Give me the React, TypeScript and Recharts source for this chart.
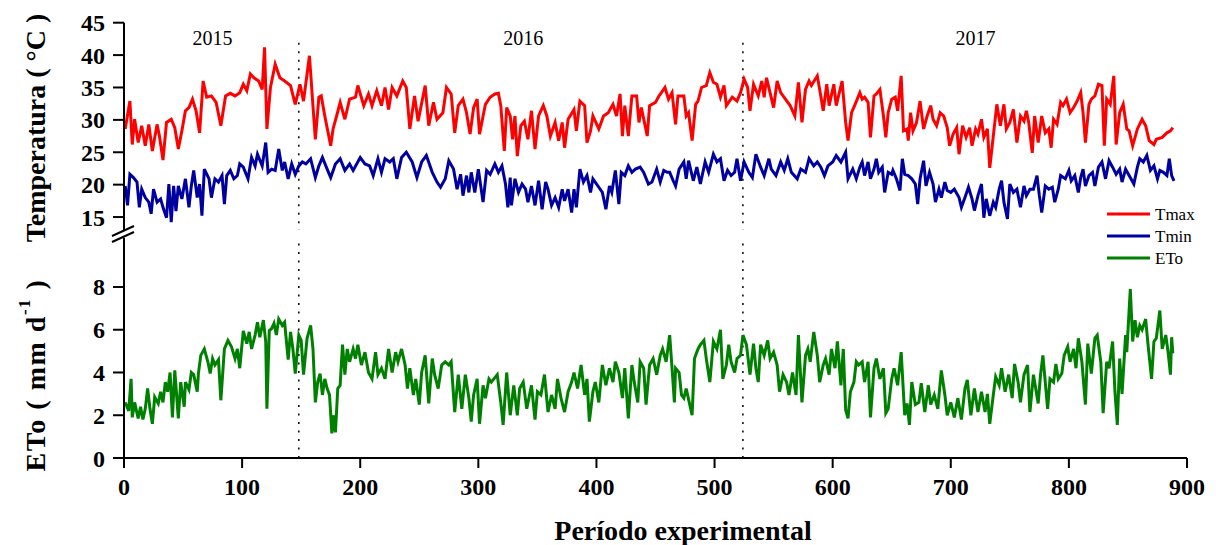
import { LineChart, Line, XAxis, YAxis, ReferenceLine } from 'recharts'

// Daily weather series over the experimental period (day index -> value)
const tmaxDay = [
  1, 5, 7, 9, 12, 15, 18, 21, 24, 28, 30, 33, 36, 40, 43, 46, 49, 52, 55, 58, 61, 64, 67, 70, 74, 78, 82, 86, 90, 94,
  98, 101, 104, 107, 110, 114, 117, 119, 121, 124, 128, 132, 136, 141, 145, 149, 152, 157, 162, 165, 167, 170, 175,
  177, 180, 183, 187, 191, 196, 198, 203, 207, 210, 214, 218, 221, 224, 227, 231, 236, 239, 242, 246, 249, 255, 258,
  262, 265, 270, 273, 277, 280, 283, 287, 290, 293, 296, 299, 301, 306, 310, 314, 317, 319, 322, 324, 327, 329, 331,
  333, 336, 339, 342, 345, 348, 351, 355, 358, 361, 365, 368, 371, 373, 376, 381, 383, 386, 390, 392, 395, 397, 402,
  406, 410, 414, 417, 420, 422, 424, 427, 430, 434, 436, 438, 443, 445, 450, 453, 455, 458, 461, 464, 467, 469, 474,
  476, 478, 481, 484, 486, 489, 493, 496, 499, 502, 505, 508, 510, 515, 519, 522, 525, 528, 530, 533, 537, 540, 542,
  544, 547, 550, 553, 556, 560, 564, 568, 571, 574, 577, 580, 582, 587, 589, 592, 595, 597, 601, 603, 608, 611, 613,
  616, 619, 623, 625, 627, 630, 632, 635, 637, 640, 643, 645, 647, 650, 653, 655, 658, 660, 663, 664, 666, 668, 671,
  674, 677, 680, 683, 685, 688, 691, 694, 697, 699, 702, 705, 707, 710, 713, 716, 718, 721, 723, 726, 728, 731, 733,
  736, 739, 742, 745, 747, 750, 753, 756, 759, 762, 764, 766, 769, 771, 774, 777, 780, 783, 785, 787, 790, 793, 795,
  798, 801, 804, 807, 810, 812, 814, 817, 819, 822, 825, 828, 830, 832, 835, 838, 840, 843, 846, 849, 851, 854, 858,
  862, 865, 868, 872, 874, 879, 883, 886, 888,
]
const tmax = [
  28.6, 32.9, 26.2, 30.1, 26.5, 29.1, 26.0, 29.3, 25.2, 29.3, 27.5, 23.8, 29.6, 30.1, 28.8, 25.5, 28.3, 31.4, 31.9,
  33.2, 31.4, 28.0, 36.0, 33.5, 33.7, 32.7, 29.1, 33.7, 34.1, 33.7, 34.2, 35.5, 34.5, 37.1, 36.5, 36.0, 34.7, 41.2,
  28.6, 35.0, 38.6, 36.5, 36.0, 35.3, 32.4, 35.5, 32.9, 39.9, 27.0, 33.5, 33.7, 30.6, 26.0, 28.6, 30.6, 32.7, 30.1,
  33.2, 33.5, 35.3, 32.2, 34.0, 32.2, 34.5, 32.2, 35.0, 31.6, 35.0, 33.7, 36.0, 35.0, 28.6, 33.7, 29.8, 35.3, 29.1,
  32.7, 30.1, 31.1, 35.0, 34.0, 28.0, 32.2, 33.2, 31.1, 27.8, 31.9, 33.2, 27.8, 32.4, 33.5, 34.0, 34.1, 32.2, 25.2,
  31.9, 30.6, 27.0, 30.6, 24.4, 29.1, 29.8, 27.0, 31.4, 25.5, 30.6, 32.2, 30.6, 27.5, 29.6, 26.8, 29.6, 25.7, 30.1,
  31.6, 28.3, 32.9, 32.2, 26.5, 28.3, 30.6, 28.6, 30.6, 31.1, 32.4, 30.6, 34.0, 27.5, 32.2, 27.5, 33.7, 33.7, 29.6,
  31.9, 27.5, 32.2, 32.7, 33.7, 34.2, 35.0, 33.2, 34.2, 29.3, 33.7, 33.7, 30.6, 31.1, 26.8, 32.4, 32.9, 35.0, 35.3,
  37.3, 35.8, 35.5, 33.5, 35.3, 32.2, 33.5, 32.9, 34.2, 36.3, 35.0, 31.4, 35.5, 33.7, 36.0, 33.5, 36.5, 34.2, 31.9,
  36.0, 34.2, 33.2, 32.2, 30.6, 35.8, 29.6, 34.7, 36.0, 35.3, 36.8, 34.7, 31.4, 35.5, 32.2, 35.5, 32.2, 36.0, 29.6,
  26.8, 31.1, 32.4, 34.2, 33.2, 33.5, 32.7, 27.3, 33.7, 34.0, 34.7, 30.6, 27.3, 31.1, 33.2, 33.5, 31.4, 36.8, 28.3,
  28.6, 26.8, 31.1, 28.3, 29.6, 32.9, 28.6, 30.6, 32.2, 30.1, 29.1, 31.1, 30.6, 28.8, 26.0, 27.8, 28.8, 24.7, 29.1,
  27.3, 28.8, 26.0, 28.6, 27.8, 30.1, 27.3, 28.6, 22.6, 27.5, 32.4, 29.1, 32.4, 28.6, 29.6, 31.6, 26.5, 30.6, 29.8,
  31.4, 29.6, 24.9, 30.6, 26.5, 30.6, 28.0, 28.6, 25.7, 30.1, 29.3, 32.7, 32.2, 33.2, 31.1, 31.9, 32.9, 34.2, 31.1,
  26.5, 32.4, 33.2, 33.7, 35.5, 35.3, 26.0, 33.2, 32.4, 36.8, 26.2, 31.1, 32.4, 28.6, 28.3, 26.0, 28.6, 30.1, 29.1,
  26.8, 26.2, 27.0, 27.3, 28.0, 28.3, 28.8,
]

const tminDay = [
  1, 3, 5, 8, 11, 13, 15, 18, 21, 23, 25, 28, 31, 33, 36, 38, 40, 42, 44, 46, 49, 52, 55, 57, 59, 62, 64, 66, 68, 72,
  74, 77, 80, 83, 85, 87, 90, 93, 96, 98, 101, 105, 108, 111, 113, 117, 120, 122, 125, 128, 131, 134, 136, 139, 142,
  145, 148, 151, 154, 158, 162, 165, 168, 172, 175, 179, 183, 187, 191, 194, 200, 204, 208, 211, 215, 218, 221, 225,
  228, 231, 235, 239, 244, 248, 252, 256, 261, 265, 268, 272, 275, 279, 282, 285, 287, 290, 292, 294, 297, 300, 304,
  307, 310, 314, 317, 320, 323, 325, 327, 328, 331, 334, 337, 340, 342, 345, 348, 351, 354, 357, 359, 362, 365, 368,
  371, 373, 376, 379, 381, 383, 386, 389, 392, 395, 397, 402, 405, 408, 411, 413, 416, 419, 421, 424, 427, 430, 433,
  437, 440, 444, 447, 451, 454, 457, 460, 462, 465, 467, 470, 474, 476, 478, 482, 485, 488, 492, 495, 499, 502, 505,
  508, 511, 514, 517, 519, 522, 525, 529, 532, 535, 539, 542, 546, 548, 552, 556, 559, 562, 565, 570, 573, 577, 580,
  584, 587, 590, 593, 596, 600, 603, 607, 611, 613, 617, 620, 623, 625, 627, 630, 632, 635, 637, 639, 642, 644, 647,
  650, 651, 654, 657, 659, 661, 664, 667, 670, 672, 674, 677, 679, 682, 685, 687, 690, 692, 695, 697, 700, 703, 707,
  709, 712, 715, 718, 720, 723, 726, 728, 730, 733, 736, 738, 741, 743, 745, 748, 750, 753, 756, 759, 762, 764, 767,
  770, 773, 775, 777, 780, 783, 786, 788, 791, 793, 797, 800, 802, 805, 808, 810, 812, 814, 817, 820, 822, 825, 828,
  831, 834, 837, 840, 843, 845, 848, 851, 855, 858, 860, 863, 866, 869, 872, 875, 877, 880, 883, 885, 887, 889,
]
const tmin = [
  19.8, 16.8, 21.6, 21.1, 20.4, 16.5, 19.3, 18.0, 17.3, 15.5, 19.3, 17.3, 17.8, 16.5, 14.9, 20.1, 14.2, 19.8, 15.9,
  19.8, 17.8, 20.9, 16.5, 19.8, 22.2, 18.0, 20.1, 15.2, 22.4, 20.9, 18.0, 20.9, 20.4, 21.4, 17.0, 21.4, 22.2, 20.9,
  21.4, 23.2, 22.7, 20.9, 24.2, 22.9, 24.7, 22.9, 26.5, 21.9, 22.4, 22.2, 25.5, 22.2, 23.5, 20.9, 23.2, 21.6, 22.9,
  23.5, 23.2, 24.0, 21.1, 22.9, 24.2, 22.4, 21.1, 23.2, 24.0, 22.2, 23.2, 22.2, 24.2, 23.2, 22.9, 21.4, 24.0, 21.9,
  24.0, 23.5, 24.0, 20.9, 24.2, 25.0, 23.5, 21.1, 23.5, 24.5, 21.9, 20.4, 19.6, 20.9, 23.7, 22.4, 19.3, 21.6, 18.3,
  21.4, 18.8, 21.9, 18.8, 22.4, 17.3, 22.2, 21.6, 23.2, 21.9, 22.9, 20.1, 16.5, 21.1, 16.8, 20.9, 18.8, 20.1, 19.3,
  17.3, 19.8, 16.8, 20.6, 16.2, 20.4, 19.3, 16.8, 18.0, 16.5, 19.3, 17.5, 19.3, 15.7, 19.3, 16.5, 22.4, 20.4, 21.4,
  18.8, 20.9, 19.6, 18.8, 16.2, 19.8, 18.8, 22.2, 17.0, 21.9, 21.4, 22.9, 21.9, 22.4, 22.7, 21.9, 20.1, 20.4, 22.4,
  20.4, 22.2, 21.9, 21.9, 20.6, 19.8, 22.4, 23.5, 20.9, 23.7, 20.6, 22.7, 20.1, 23.5, 21.9, 24.7, 23.5, 24.0, 20.6,
  22.2, 21.4, 21.9, 24.0, 20.6, 23.5, 21.9, 21.1, 24.7, 22.7, 21.4, 24.0, 22.4, 21.4, 23.5, 22.2, 24.0, 21.9, 20.9,
  22.4, 21.9, 24.0, 22.9, 23.5, 22.7, 21.4, 22.9, 23.5, 24.5, 23.5, 25.0, 20.9, 22.4, 20.9, 22.7, 23.5, 21.4, 23.5,
  20.9, 22.4, 24.0, 21.9, 22.7, 18.8, 21.9, 21.6, 22.2, 20.9, 19.1, 24.0, 21.6, 21.4, 20.9, 20.1, 17.0, 20.9, 23.7,
  19.8, 21.9, 20.1, 17.3, 19.3, 18.0, 20.4, 19.1, 18.8, 19.3, 18.0, 16.5, 18.0, 19.6, 17.8, 16.0, 18.3, 20.1, 14.9,
  17.8, 15.2, 17.3, 16.5, 19.3, 20.6, 17.3, 14.7, 20.1, 18.8, 19.3, 16.5, 19.8, 18.3, 19.3, 19.3, 21.4, 18.3, 15.7,
  19.8, 19.3, 19.6, 17.3, 19.3, 21.4, 20.9, 22.2, 20.6, 21.4, 18.8, 21.1, 22.4, 19.8, 21.4, 21.9, 19.8, 22.7, 23.5,
  20.9, 23.7, 22.7, 21.6, 22.4, 20.4, 22.4, 21.4, 20.1, 22.7, 24.0, 23.5, 24.5, 22.2, 22.9, 20.9, 22.2, 21.9, 21.4,
  24.0, 21.4, 20.6,
]

const etoDay = [
  1, 4, 6, 7, 9, 12, 14, 16, 18, 20, 22, 24, 26, 29, 31, 33, 35, 37, 39, 41, 43, 46, 48, 51, 52, 55, 57, 59, 62, 63,
  65, 68, 71, 73, 75, 77, 80, 82, 85, 88, 91, 94, 96, 98, 101, 104, 106, 108, 111, 113, 115, 118, 120, 121, 123, 125,
  127, 129, 131, 134, 136, 139, 141, 143, 145, 148, 150, 152, 155, 158, 160, 162, 164, 166, 168, 170, 172, 174, 176,
  177, 179, 181, 183, 185, 187, 189, 191, 194, 196, 198, 201, 204, 207, 210, 213, 215, 218, 221, 224, 227, 230, 232,
  235, 238, 240, 242, 245, 247, 250, 252, 255, 258, 261, 263, 266, 269, 272, 275, 277, 280, 283, 286, 289, 292, 294,
  296, 299, 301, 304, 306, 309, 311, 316, 319, 321, 324, 327, 330, 333, 335, 338, 341, 345, 348, 350, 353, 356, 359,
  362, 365, 367, 370, 373, 376, 379, 381, 384, 387, 390, 392, 394, 397, 399, 402, 405, 408, 411, 414, 416, 419, 422,
  424, 427, 430, 432, 435, 437, 440, 442, 445, 448, 451, 454, 456, 459, 462, 464, 466, 467, 470, 472, 474, 476, 479,
  481, 483, 486, 488, 491, 493, 496, 499, 502, 505, 507, 510, 512, 514, 517, 519, 522, 524, 527, 530, 533, 535, 537,
  539, 542, 545, 547, 550, 553, 555, 558, 561, 563, 566, 569, 571, 574, 577, 579, 581, 584, 587, 589, 592, 594, 597,
  599, 602, 604, 607, 609, 611, 613, 615, 618, 620, 622, 625, 627, 630, 632, 635, 637, 640, 643, 645, 647, 650, 652,
  655, 658, 661, 663, 665, 667, 670, 673, 675, 678, 681, 683, 686, 689, 692, 695, 697, 700, 703, 706, 709, 712, 714,
  717, 720, 723, 726, 729, 731, 733, 736, 738, 741, 743, 746, 749, 752, 754, 757, 759, 762, 765, 767, 770, 774, 776,
  778, 780, 782, 784, 787, 789, 791, 794, 796, 799, 801, 804, 806, 808, 811, 814, 816, 819, 822, 824, 827, 829, 832,
  834, 837, 839, 841, 843, 845, 848, 849, 852, 854, 856, 858, 860, 862, 865, 867, 870, 872, 874, 877, 879, 882, 884,
  886, 887, 888,
]
const eto = [
  2.6, 2.2, 3.7, 1.9, 2.6, 1.85, 2.4, 1.8, 2.3, 3.25, 2.3, 1.6, 2.85, 2.55, 3.1, 2.6, 3.55, 3.1, 4.0, 1.9, 4.1, 1.85,
  3.55, 2.4, 3.55, 3.2, 4.0, 3.9, 3.1, 3.95, 4.8, 5.1, 4.5, 3.95, 4.65, 4.35, 4.6, 2.7, 5.1, 5.5, 5.2, 4.65, 5.1,
  4.2, 5.95, 5.35, 5.9, 5.1, 5.75, 6.35, 5.65, 6.45, 5.45, 2.3, 5.95, 6.05, 6.3, 5.75, 6.5, 6.2, 6.35, 4.6, 5.9, 5.1,
  3.95, 5.75, 5.5, 3.9, 5.6, 6.2, 5.1, 2.6, 3.55, 3.95, 2.95, 3.7, 3.25, 2.95, 1.15, 2.0, 1.2, 3.25, 3.4, 5.3, 3.9,
  5.1, 4.5, 5.1, 4.65, 5.3, 4.35, 4.95, 4.0, 3.7, 4.95, 3.9, 4.2, 3.7, 5.1, 4.0, 4.95, 4.5, 5.1, 4.35, 3.25, 4.2,
  2.95, 3.7, 2.5, 4.0, 4.8, 2.55, 4.65, 3.9, 3.25, 4.35, 4.5, 4.35, 4.5, 2.15, 3.9, 2.3, 3.9, 2.8, 1.7, 2.95, 3.7,
  1.6, 3.4, 2.8, 3.7, 3.55, 3.9, 2.6, 1.55, 4.0, 2.0, 3.4, 2.0, 3.25, 3.55, 2.3, 3.4, 1.8, 3.1, 2.95, 3.9, 2.15,
  2.95, 2.3, 3.7, 2.8, 2.15, 3.1, 3.55, 4.0, 3.25, 4.35, 2.95, 3.7, 1.7, 3.1, 3.55, 2.6, 4.35, 3.4, 4.2, 3.55, 4.5,
  4.0, 2.8, 4.2, 1.85, 4.35, 3.55, 2.6, 4.5, 4.2, 2.5, 4.35, 4.65, 3.9, 4.8, 5.1, 4.5, 5.75, 4.2, 2.6, 4.2, 4.0,
  2.95, 2.8, 3.25, 2.5, 2.0, 4.65, 5.1, 5.3, 5.5, 4.65, 3.55, 5.45, 5.1, 6.0, 3.7, 4.35, 5.3, 4.5, 4.0, 4.65, 4.8,
  5.75, 5.3, 3.9, 5.35, 4.2, 3.55, 5.3, 4.8, 5.5, 4.65, 4.95, 4.35, 3.1, 3.9, 3.55, 2.95, 4.0, 2.95, 5.75, 2.6, 4.8,
  5.1, 4.5, 5.9, 4.8, 3.55, 4.35, 4.65, 3.9, 5.1, 4.2, 5.45, 3.4, 5.1, 2.25, 1.85, 3.1, 3.55, 4.5, 4.35, 4.5, 3.55,
  4.5, 1.9, 4.2, 4.65, 3.7, 4.2, 2.1, 2.3, 3.7, 4.2, 3.4, 4.95, 2.0, 2.55, 1.55, 3.55, 2.5, 2.6, 3.5, 2.15, 3.4, 2.5,
  2.95, 2.3, 4.1, 2.95, 2.0, 2.6, 1.9, 2.8, 1.8, 3.25, 3.65, 2.0, 3.25, 2.15, 3.1, 2.15, 3.0, 1.6, 2.95, 3.8, 3.4,
  4.2, 3.1, 3.9, 2.8, 4.4, 3.55, 2.6, 3.9, 4.35, 2.15, 3.9, 2.55, 3.9, 4.8, 3.55, 2.3, 3.7, 3.55, 4.4, 3.7, 3.95,
  4.8, 5.2, 4.5, 5.1, 4.2, 5.6, 4.5, 2.5, 5.35, 3.95, 5.6, 5.75, 4.5, 2.1, 4.5, 4.2, 5.45, 3.1, 1.55, 4.65, 3.0,
  5.75, 4.95, 7.9, 5.45, 6.45, 5.65, 6.2, 6.0, 6.5, 5.3, 3.7, 5.45, 5.6, 6.9, 5.1, 5.75, 4.95, 3.9, 5.65, 4.9,
]

const dayTicks = [0, 100, 200, 300, 400, 500, 600, 700, 800, 900]
const tempTicks = [15, 20, 25, 30, 35, 40, 45]
const etoTicks = [0, 2, 4, 6, 8]
const yearStarts = [148, 524]
const years = ['2015', '2016', '2017']
const yearLabelDays = [75, 338, 721]

const tmaxData = tmaxDay.map((day, i) => ({ day, v: tmax[i] }))
const tminData = tminDay.map((day, i) => ({ day, v: tmin[i] }))
const etoData = etoDay.map((day, i) => ({ day, v: eto[i] }))

const W = 1216
const H = 545
const LEFT = 124
const RIGHT = 29
const serif = '"Liberation Serif", "Times New Roman", Times, serif'

const xOf = (day: number) => LEFT + (day / 900) * (W - LEFT - RIGHT)

const tickStyle = { fill: '#000', fontSize: 24, fontWeight: 'bold', fontFamily: serif }
const axisStroke = { stroke: '#000', strokeWidth: 2 }
const LINE_W = 3

const legendItems = [
  { name: 'Tmax', color: '#ff0000', y: 214 },
  { name: 'Tmin', color: '#0000a0', y: 236 },
  { name: 'ETo', color: '#008000', y: 258 },
]

export default function App() {
  return (
    <div style={{ position: 'absolute', left: 0, top: 0, width: W, height: H, background: '#fff' }}>
      {/* temperature panel */}
      <div style={{ position: 'absolute', left: 0, top: 0 }}>
        <LineChart width={W} height={H} margin={{ top: 22.7, right: RIGHT, bottom: 315, left: 0 }}>
          <XAxis type="number" dataKey="day" domain={[0, 900]} hide />
          <YAxis
            type="number"
            domain={[13, 45]}
            ticks={tempTicks}
            width={LEFT}
            tickSize={11}
            tickMargin={8}
            tick={tickStyle}
            axisLine={axisStroke}
            tickLine={axisStroke}
            allowDataOverflow
          />
          {yearStarts.map((d) => (
            <ReferenceLine
              key={d}
              segment={[{ x: d, y: 41.9 }, { x: d, y: 13 }]}
              stroke="#000"
              strokeWidth={1.5}
              strokeDasharray="2 6.5"
            />
          ))}
          <Line data={tmaxData} dataKey="v" type="linear" stroke="#ff0000" strokeWidth={LINE_W} dot={false} isAnimationActive={false} />
          <Line data={tminData} dataKey="v" type="linear" stroke="#0000a0" strokeWidth={LINE_W} dot={false} isAnimationActive={false} />
        </LineChart>
      </div>

      {/* ETo panel */}
      <div style={{ position: 'absolute', left: 0, top: 0 }}>
        <LineChart width={W} height={H} margin={{ top: 237.8, right: RIGHT, bottom: 0, left: 0 }}>
          <XAxis
            type="number"
            dataKey="day"
            domain={[0, 900]}
            ticks={dayTicks}
            height={87}
            tickSize={10}
            tickMargin={10}
            tick={tickStyle}
            axisLine={axisStroke}
            tickLine={axisStroke}
          />
          <YAxis
            type="number"
            domain={[0, 10.3]}
            ticks={etoTicks}
            width={LEFT}
            tickSize={11}
            tickMargin={8}
            tick={tickStyle}
            axisLine={axisStroke}
            tickLine={axisStroke}
            allowDataOverflow
          />
          {yearStarts.map((d) => (
            <ReferenceLine key={d} x={d} stroke="#000" strokeWidth={1.5} strokeDasharray="2 6.5" />
          ))}
          <Line data={etoData} dataKey="v" type="linear" stroke="#008000" strokeWidth={LINE_W} dot={false} isAnimationActive={false} />
        </LineChart>
      </div>

      {/* titles, year labels, legend and axis break */}
      <svg
        width={W}
        height={H}
        style={{ position: 'absolute', left: 0, top: 0, pointerEvents: 'none' }}
        fontFamily={serif}
      >
        <text
          transform="translate(35,128) rotate(-90)"
          textAnchor="middle"
          dominantBaseline="central"
          fontSize={28}
          fontWeight="bold"
        >
          Temperatura ( °C )
        </text>
        <text
          transform="translate(35,375) rotate(-90)"
          textAnchor="middle"
          dominantBaseline="central"
          fontSize={28}
          fontWeight="bold"
          letterSpacing={1.5}
        >
          <tspan>ETo ( mm d</tspan>
          <tspan fontSize={17} dy={-11}>-1</tspan>
          <tspan dy={11}> )</tspan>
        </text>
        <text x={683} y={540} textAnchor="middle" fontSize={28} fontWeight="bold">
          Período experimental
        </text>

        {years.map((y, i) => (
          <text key={y} x={xOf(yearLabelDays[i])} y={45} textAnchor="middle" fontSize={20}>
            {y}
          </text>
        ))}

        {legendItems.map((it) => (
          <g key={it.name}>
            <line x1={1107} x2={1150} y1={it.y} y2={it.y} stroke={it.color} strokeWidth={3} />
            <text x={1155} y={it.y + 6} fontSize={17}>
              {it.name}
            </text>
          </g>
        ))}

        <line x1={112} y1={236} x2={134} y2={226} stroke="#000" strokeWidth={2} />
        <line x1={112} y1={242} x2={134} y2={232} stroke="#000" strokeWidth={2} />
      </svg>
    </div>
  )
}
